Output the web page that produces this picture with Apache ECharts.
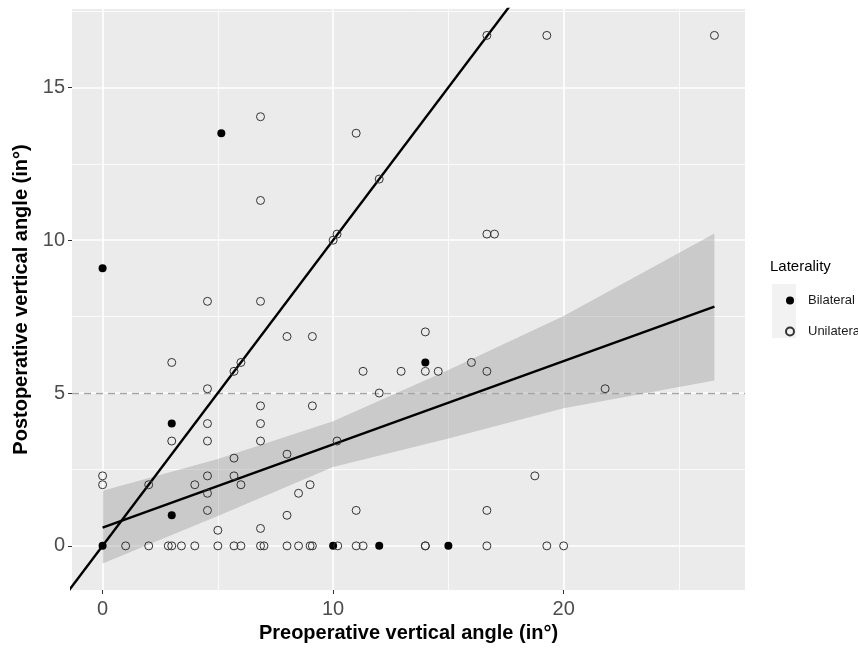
<!DOCTYPE html>
<html>
<head>
<meta charset="utf-8">
<script src="https://cdn.jsdelivr.net/npm/echarts@6/dist/echarts.min.js"></script>
<style>
  html, body { margin: 0; padding: 0; background: #fff; }
  #chart { width: 858px; height: 649px; }
</style>
</head>
<body>
<div id="chart"></div>
<script>
// preoperative / postoperative vertical angle, bilateral cases
const bilateralX = [0, 0, 3, 3, 5.15, 10, 12, 14, 15];
const bilateralY = [0, 9.08, 4, 1, 13.5, 0, 0, 6, 0];

// unilateral cases
const unilateralX = [
  6.85, 11, 6.85, 10, 10.17, 16.67, 19.27, 26.54, 12, 16.67, 17,
  4.55, 6.85, 8, 9.1, 3, 5.7, 6, 11.3, 4.55, 6.85, 9.1, 4.55, 6.85,
  3, 4.55, 6.85, 10.17, 5.7, 8, 0, 0, 2, 4, 4.55, 5.7, 6, 4.55, 9, 8.5,
  4.55, 8, 11, 5, 6.85,
  14, 12.95, 14, 14.56, 16, 16.67, 12, 21.8, 18.75, 16.67,
  1, 2, 2.85, 3, 3.42, 4, 5, 5.7, 6, 6.85, 7, 8, 8.5, 9, 9.1, 10.2, 11, 11.3,
  14, 14, 16.67, 19.27, 20
];
const unilateralY = [
  14.04, 13.5, 11.3, 10, 10.2, 16.7, 16.7, 16.7, 12, 10.2, 10.2,
  8, 8, 6.85, 6.85, 6, 5.71, 6, 5.71, 5.14, 4.58, 4.58, 4, 4,
  3.43, 3.43, 3.43, 3.43, 2.87, 3, 2.29, 2, 2, 2, 2.29, 2.29, 2, 1.72, 2, 1.72,
  1.16, 1, 1.16, 0.51, 0.57,
  7, 5.71, 5.71, 5.71, 6, 5.71, 5, 5.14, 2.29, 1.16,
  0, 0, 0, 0, 0, 0, 0, 0, 0, 0, 0, 0, 0, 0, 0, 0, 0, 0,
  0, 0, 0, 0, 0
];

// linear fit and its confidence band
const fitX = [0, 26.54];
const fitY = [0.6, 7.83];
const bandX = [0, 5, 10, 15, 20, 26.54];
const bandLow = [-0.58, 0.98, 2.58, 3.51, 4.5, 5.41];
const bandHigh = [1.8, 2.84, 4.08, 5.75, 7.52, 10.22];

// identity line y = x
const refX = [-2, 18];
const refY = [-2, 18];

const threshold = 5;

const xTicks = [0, 10, 20];
const xMinor = [5, 15, 25];
const yTicks = [0, 5, 10, 15];
const yMinor = [2.5, 7.5, 12.5, 17.5];

const zip = (xs, ys) => xs.map((x, i) => [x, ys[i]]);

const font = "Liberation Sans, Arial, sans-serif";
const chart = echarts.init(document.getElementById("chart"));

const gridLines = []
    .concat(xTicks.map(v => ({ xAxis: v, lineStyle: { width: 1.6 } })))
    .concat(xMinor.map(v => ({ xAxis: v, lineStyle: { width: 0.8 } })))
    .concat(yTicks.map(v => ({ yAxis: v, lineStyle: { width: 1.6 } })))
    .concat(yMinor.map(v => ({ yAxis: v, lineStyle: { width: 0.8 } })));

const option = {
    animation: false,
    grid: {
        left: 72, top: 9, width: 673, height: 581,
        containLabel: false,
        outerBoundsMode: "none",
        show: true, backgroundColor: "#EBEBEB", borderWidth: 0
    },
    xAxis: {
        type: "value",
        min: -1.327,
        max: 27.867,
        splitLine: { show: false },
        axisLine: { show: false, onZero: false },
        axisTick: { show: true, customValues: xTicks, length: 4, lineStyle: { color: "#333" } },
        axisLabel: { customValues: xTicks, fontSize: 20, color: "#4D4D4D", margin: 9, fontFamily: font },
        name: "Preoperative vertical angle (in°)",
        nameLocation: "middle",
        nameGap: 32,
        nameTextStyle: { fontSize: 20, fontWeight: "bold", color: "#000", fontFamily: font }
    },
    yAxis: {
        type: "value",
        min: -1.444,
        max: 17.564,
        splitLine: { show: false },
        axisLine: { show: false, onZero: false },
        axisTick: { show: true, customValues: yTicks, length: 4, lineStyle: { color: "#333" } },
        axisLabel: { customValues: yTicks, fontSize: 20, color: "#4D4D4D", margin: 7, fontFamily: font },
        name: "Postoperative vertical angle (in°)",
        nameLocation: "middle",
        nameGap: 34,
        nameTextStyle: { fontSize: 20, fontWeight: "bold", color: "#000", fontFamily: font }
    },
    legend: {
        data: ["Bilateral", "Unilateral"],
        orient: "vertical",
        left: 780,
        top: 289,
        itemWidth: 8,
        itemHeight: 8,
        itemGap: 18,
        textStyle: { fontSize: 13, color: "#1A1A1A", fontFamily: font, padding: [0, 0, 0, 9] }
    },
    graphic: [
        {
            type: "rect", z: -1,
            shape: { x: 772, y: 284, width: 24, height: 54 },
            style: { fill: "#F2F2F2" }
        },
        {
            type: "text", left: 770, top: 259,
            style: { text: "Laterality", fontSize: 15, fill: "#000", fontFamily: font }
        }
    ],
    series: [
        {
            name: "gridlines",
            type: "line",
            data: [],
            silent: true,
            markLine: {
                z: 1,
                silent: true,
                symbol: ["none", "none"],
                label: { show: false },
                lineStyle: { color: "#FFFFFF", type: "solid" },
                data: gridLines
            }
        },
        {
            name: "band",
            type: "custom",
            silent: true,
            z: 2,
            clip: true,
            data: [[bandX[0], bandLow[0]]],
            renderItem: function (params, api) {
                const pts = [];
                for (let i = 0; i < bandX.length; i++) pts.push(api.coord([bandX[i], bandHigh[i]]));
                for (let i = bandX.length - 1; i >= 0; i--) pts.push(api.coord([bandX[i], bandLow[i]]));
                return {
                    type: "polygon",
                    shape: { points: pts },
                    style: { fill: "rgba(153,153,153,0.4)" }
                };
            }
        },
        {
            name: "identity",
            type: "line",
            z: 3,
            data: zip(refX, refY),
            symbol: "none",
            clip: true,
            silent: true,
            lineStyle: { color: "#000", width: 2.4 }
        },
        {
            name: "fit",
            type: "line",
            z: 3,
            data: zip(fitX, fitY),
            symbol: "none",
            silent: true,
            lineStyle: { color: "#000", width: 2.4 },
            markLine: {
                z: 3,
                silent: true,
                symbol: ["none", "none"],
                label: { show: false },
                lineStyle: { color: "#A6A6A6", type: [7, 5], width: 1.4 },
                data: [{ yAxis: threshold }]
            }
        },
        {
            name: "Bilateral",
            type: "scatter",
            z: 4,
            symbol: "circle",
            symbolSize: 8,
            data: zip(bilateralX, bilateralY),
            itemStyle: { color: "#000", opacity: 1 }
        },
        {
            name: "Unilateral",
            type: "scatter",
            z: 4,
            symbol: "circle",
            symbolSize: 8,
            data: zip(unilateralX, unilateralY),
            itemStyle: { color: "rgba(0,0,0,0)", borderColor: "#333", borderWidth: 1, opacity: 1 }
        }
    ]
};

chart.setOption(option);
</script>
</body>
</html>
